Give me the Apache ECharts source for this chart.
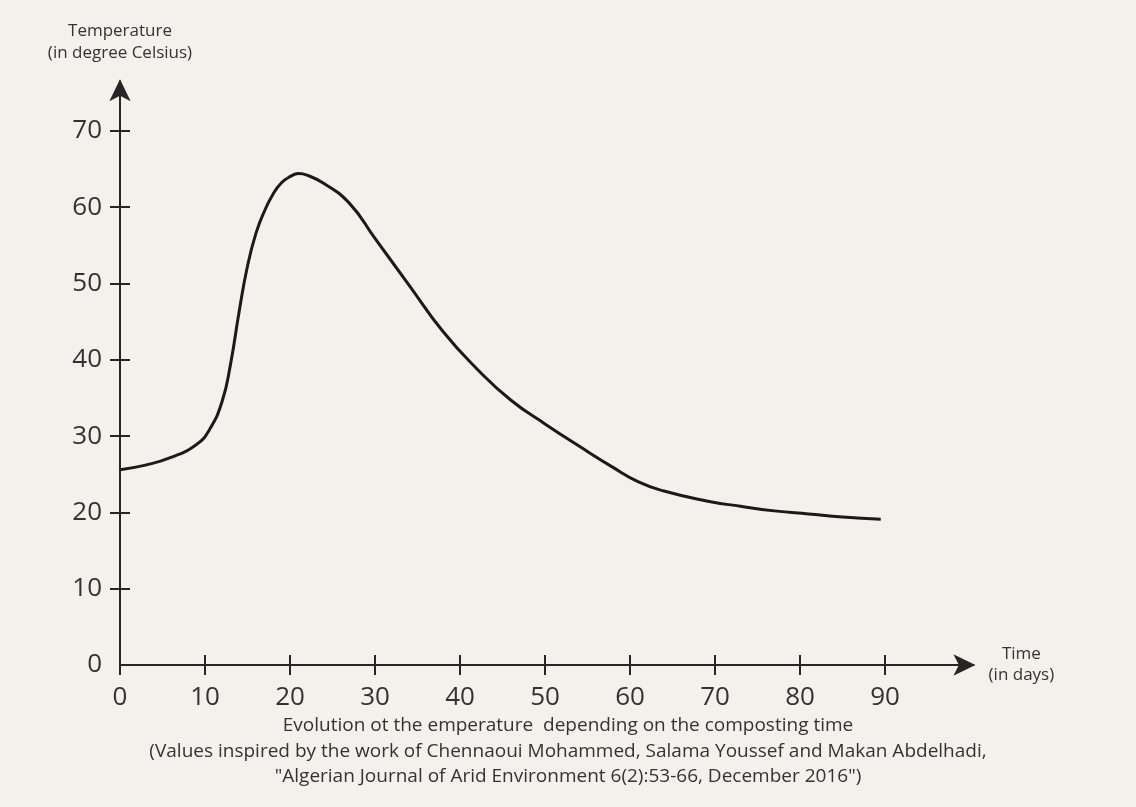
<!DOCTYPE html>
<html>
<head>
<meta charset="utf-8">
<script src="https://cdn.jsdelivr.net/npm/echarts@6/dist/echarts.min.js"></script>
<style>
html,body{margin:0;padding:0;background:#f4f1ed;}
#chart{width:1136px;height:807px;}
</style>
</head>
<body>
<div id="chart"></div>
<script>
// Data
const days = [0, 3, 6, 9, 10.5, 12, 13, 14, 15, 16, 17, 18, 19, 20, 21, 22, 24, 27, 30, 34, 38, 42, 46, 50, 54, 58, 61, 64, 69, 73, 77, 81, 85, 89.5];
const temperature = [25.6, 26.2, 27.2, 28.9, 30.8, 34.5, 39.4, 46.2, 52.3, 56.6, 59.5, 61.7, 63.2, 64.0, 64.4, 64.2, 63.1, 60.5, 55.9, 49.8, 43.7, 38.8, 34.7, 31.6, 28.7, 25.9, 24.0, 22.8, 21.5, 20.8, 20.2, 19.8, 19.4, 19.1];
const xTicks = [0, 10, 20, 30, 40, 50, 60, 70, 80, 90];
const yTicks = [0, 10, 20, 30, 40, 50, 60, 70];
const xAxisName = 'Time\n(in days)';
const yAxisName = 'Temperature\n(in degree Celsius)';
const caption = 'Evolution ot the emperature  depending on the composting time\n(Values inspired by the work of Chennaoui Mohammed, Salama Youssef and Makan Abdelhadi,\n"Algerian Journal of Arid Environment 6(2):53-66, December 2016")';

const FONT = '"Open Sans", "Noto Sans", sans-serif';
const AX = '#262626';
const chart = echarts.init(document.getElementById('chart'), null, {renderer: 'canvas'});

const pairs = days.map((d, i) => [d, temperature[i]]);

const baseX = {
  type: 'value', min: 0, max: 100.4, interval: 10,
  splitLine: {show: false}
};
const baseY = {
  type: 'value', min: 0, max: 76.5, interval: 5,
  splitLine: {show: false}
};

chart.setOption({
  backgroundColor: '#f4f1ed',
  animation: false,
  graphic: [{
    type: 'text',
    x: 568, y: 713,
    style: {
      text: caption,
      fontFamily: FONT, fontSize: 19, fill: '#333',
      align: 'center', verticalAlign: 'top', lineHeight: 25.5
    }
  }],
  grid: {left: 120, top: 81.3, width: 853.4, height: 583.7, containLabel: false},
  xAxis: [
    Object.assign({}, baseX, {
      position: 'bottom',
      name: xAxisName, nameLocation: 'end', nameGap: 48,
      nameTextStyle: {fontFamily: FONT, fontSize: 17, color: '#333', align: 'center', verticalAlign: 'middle', lineHeight: 21},
      axisLine: {show: true, lineStyle: {color: AX, width: 2}, symbol: ['none', 'arrow'], symbolSize: [16, 22], symbolOffset: [0, 2]},
      axisTick: {show: true, length: 10, lineStyle: {color: AX, width: 2}, customValues: xTicks},
      axisLabel: {show: true, margin: 20, fontFamily: FONT, fontSize: 26, color: '#333', customValues: xTicks}
    }),
    Object.assign({}, baseX, {
      position: 'bottom',
      axisLine: {show: false},
      axisTick: {show: true, inside: true, length: 10, lineStyle: {color: AX, width: 2}, customValues: xTicks.slice(1)},
      axisLabel: {show: false}
    })
  ],
  yAxis: [
    Object.assign({}, baseY, {
      position: 'left',
      name: yAxisName, nameLocation: 'end', nameGap: 17,
      nameTextStyle: {fontFamily: FONT, fontSize: 17, color: '#333', align: 'center', verticalAlign: 'bottom', lineHeight: 22},
      axisLine: {show: true, lineStyle: {color: AX, width: 2}, symbol: ['none', 'arrow'], symbolSize: [16, 22], symbolOffset: [0, 2]},
      axisTick: {show: true, length: 10, lineStyle: {color: AX, width: 2}, customValues: yTicks.slice(1)},
      axisLabel: {show: true, margin: 18, fontFamily: FONT, fontSize: 26, color: '#333', customValues: yTicks}
    }),
    Object.assign({}, baseY, {
      position: 'left',
      axisLine: {show: false},
      axisTick: {show: true, inside: true, length: 10, lineStyle: {color: AX, width: 2}, customValues: yTicks.slice(1)},
      axisLabel: {show: false}
    })
  ],
  series: [{
    type: 'line',
    xAxisIndex: 0, yAxisIndex: 0,
    data: pairs,
    smooth: 0.5,
    showSymbol: false,
    symbol: 'none',
    lineStyle: {color: '#1a1a1a', width: 3}
  }]
});
</script>
</body>
</html>
